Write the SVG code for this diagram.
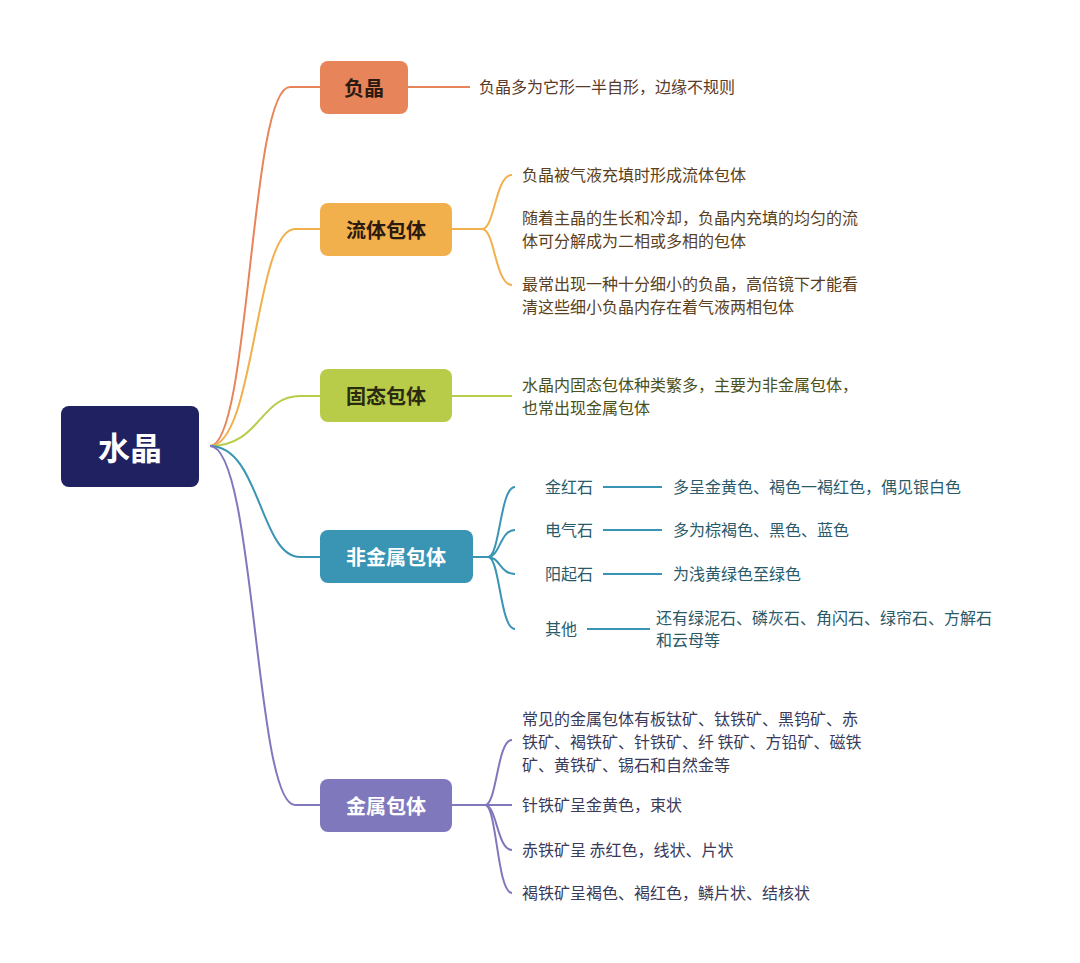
<svg xmlns="http://www.w3.org/2000/svg" width="1080" height="963" viewBox="0 0 1080 963">
<style>
text{font-family:"Noto Sans CJK SC","Noto Sans",sans-serif}
.n{font-size:20px;font-weight:bold;text-anchor:middle;dominant-baseline:central}
.l{font-size:16px}
.c{fill:none;stroke-width:2}
</style>
<rect width="1080" height="963" fill="#fff"/>
<g id="connectors">
<path class="c" stroke="#e8845a" d="M210,446 C250,446 250,87 290,87 L320,87 M408,87 L470,87"/>
<path class="c" stroke="#f2b04d" d="M210,446 C255,446 255,229 295,229 L320,229 M452,229 L482,229 M482,229 C495,229 495,175 512,175 M482,229 C495,229 495,285 512,285"/>
<path class="c" stroke="#b8cc4a" d="M210,446 C260,446 260,396 300,396 L320,396 M452,396 L512,396"/>
<path class="c" stroke="#3a94b4" d="M210,446 C260,446 260,557 300,557 L320,557 M473,557 L488,557 M488,557 C500,557 500,487 515,487 M488,557 C500,557 500,530 515,530 M488,557 C500,557 500,574 515,574 M488,557 C500,557 500,629 515,629 M603,487 L662,487 M603,530 L662,530 M603,574 L662,574 M587,629 L650,629"/>
<path class="c" stroke="#8078bc" d="M210,446 C255,446 255,805 295,805 L320,805 M452,805 L485,805 M485,805 C497,805 497,740 512,740 M485,805 C497,805 497,805 512,805 M485,805 C497,805 497,850 512,850 M485,805 C497,805 497,893 512,893"/>
</g>
<g id="root"><rect x="61" y="406" width="138" height="81" rx="8" fill="#1f2160"/><text x="130" y="446" class="n" style="font-size:32px" fill="#fff">水晶</text></g>
<g id="n1"><rect x="320" y="61" width="88" height="53" rx="8" fill="#e8845a"/><text x="364" y="87" class="n" fill="#2a1a10">负晶</text></g>
<g id="n2"><rect x="320" y="203" width="132" height="53" rx="8" fill="#f2b04d"/><text x="386" y="229" class="n" fill="#2a1a10">流体包体</text></g>
<g id="n3"><rect x="320" y="369" width="132" height="53" rx="8" fill="#b8cc4a"/><text x="386" y="395" class="n" fill="#2a2a10">固态包体</text></g>
<g id="n4"><rect x="320" y="530" width="153" height="53" rx="8" fill="#3a94b4"/><text x="396" y="556" class="n" fill="#fff">非金属包体</text></g>
<g id="n5"><rect x="320" y="779" width="132" height="53" rx="8" fill="#8078bc"/><text x="386" y="805" class="n" fill="#fff">金属包体</text></g>
<g id="leaves" class="l">
<text x="479" y="93" fill="#5a3a28">负晶多为它形一半自形，边缘不规则</text>
<text x="522" y="181" fill="#5a4020">负晶被气液充填时形成流体包体</text>
<text x="522" y="224" fill="#5a4020">随着主晶的生长和冷却，负晶内充填的均匀的流</text>
<text x="522" y="247" fill="#5a4020">体可分解成为二相或多相的包体</text>
<text x="522" y="290" fill="#5a4020">最常出现一种十分细小的负晶，高倍镜下才能看</text>
<text x="522" y="313" fill="#5a4020">清这些细小负晶内存在着气液两相包体</text>
<text x="522" y="391" fill="#4a5020">水晶内固态包体种类繁多，主要为非金属包体，</text>
<text x="522" y="414" fill="#4a5020">也常出现金属包体</text>
<text x="545" y="493" fill="#2a5a6a">金红石</text>
<text x="545" y="536" fill="#2a5a6a">电气石</text>
<text x="545" y="580" fill="#2a5a6a">阳起石</text>
<text x="545" y="635" fill="#2a5a6a">其他</text>
<text x="673" y="493" fill="#2a5a6a">多呈金黄色、褐色一褐红色，偶见银白色</text>
<text x="673" y="536" fill="#2a5a6a">多为棕褐色、黑色、蓝色</text>
<text x="673" y="580" fill="#2a5a6a">为浅黄绿色至绿色</text>
<text x="656" y="624" fill="#2a5a6a">还有绿泥石、磷灰石、角闪石、绿帘石、方解石</text>
<text x="656" y="646" fill="#2a5a6a">和云母等</text>
<text x="522" y="725" fill="#3a3a5a">常见的金属包体有板钛矿、钛铁矿、黑钨矿、赤</text>
<text x="522" y="748" fill="#3a3a5a">铁矿、褐铁矿、针铁矿、纤 铁矿、方铅矿、磁铁</text>
<text x="522" y="771" fill="#3a3a5a">矿、黄铁矿、锡石和自然金等</text>
<text x="522" y="811" fill="#3a3a5a">针铁矿呈金黄色，束状</text>
<text x="522" y="856" fill="#3a3a5a">赤铁矿呈 赤红色，线状、片状</text>
<text x="522" y="899" fill="#3a3a5a">褐铁矿呈褐色、褐红色，鳞片状、结核状</text>
</g>
</svg>
